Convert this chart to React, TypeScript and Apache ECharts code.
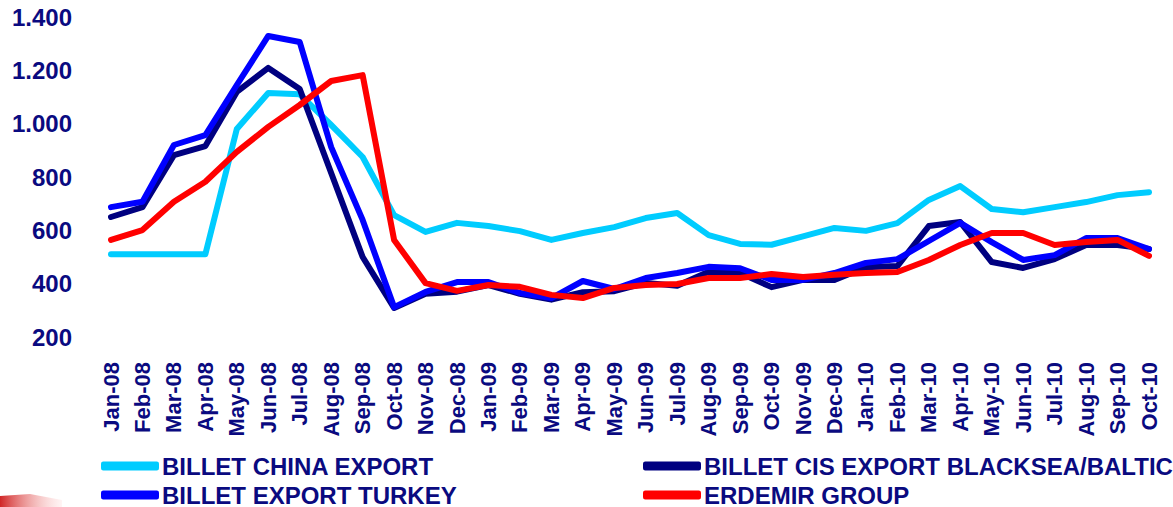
import React, { useEffect, useRef } from "react";
import * as echarts from "echarts";

const categories = [
  "Jan-08", "Feb-08", "Mar-08", "Apr-08", "May-08", "Jun-08", "Jul-08", "Aug-08", "Sep-08", "Oct-08", "Nov-08", "Dec-08",
  "Jan-09", "Feb-09", "Mar-09", "Apr-09", "May-09", "Jun-09", "Jul-09", "Aug-09", "Sep-09", "Oct-09", "Nov-09", "Dec-09",
  "Jan-10", "Feb-10", "Mar-10", "Apr-10", "May-10", "Jun-10", "Jul-10", "Aug-10", "Sep-10", "Oct-10",
];

const chinaExport = [
  510, 510, 510, 510, 980, 1115, 1110, 995, 875, 657, 594, 628,
  616, 597, 564, 590, 612, 646, 665, 582, 549, 546, 577, 609,
  598, 627, 714, 766, 680, 668, 687, 706, 732, 743,
];

const cisExport = [
  650, 687, 882, 916, 1119, 1209, 1130, 815, 500, 309, 362, 370,
  395, 362, 340, 368, 372, 403, 392, 445, 440, 387, 414, 414,
  462, 466, 616, 631, 481, 459, 492, 545, 545, 530,
];

const turkeyExport = [
  687, 707, 920, 957, 1145, 1329, 1306, 912, 639, 312, 369, 406,
  406, 365, 346, 410, 380, 421, 440, 463, 458, 414, 414, 440,
  478, 492, 560, 628, 556, 489, 507, 571, 571, 530,
];

const erdemir = [
  564, 601, 707, 782, 894, 988, 1070, 1160, 1182, 564, 402, 373,
  395, 388, 358, 346, 384, 395, 399, 421, 421, 436, 425, 433,
  440, 444, 489, 545, 590, 590, 545, 556, 564, 504,
];

const yTicks = [200, 400, 600, 800, 1000, 1200, 1400];

const seriesNames = [
  "BILLET CHINA EXPORT",
  "BILLET CIS EXPORT BLACKSEA/BALTIC",
  "BILLET EXPORT TURKEY",
  "ERDEMIR GROUP",
];
const seriesColors = ["#00CCFF", "#000080", "#0000FF", "#FF0000"];
const seriesData = [chinaExport, cisExport, turkeyExport, erdemir];

const navy = "#0A0A80";
const font = "Liberation Sans, Arial, sans-serif";

function formatTick(v: number): string {
  return String(v).replace(/\B(?=(\d{3})+(?!\d))/g, ".");
}

export default function App() {
  const ref = useRef<HTMLDivElement>(null);
  useEffect(() => {
    if (!ref.current) return;
    const chart = echarts.init(ref.current, undefined, { renderer: "svg" });
    const legendPos = [
      { left: 101, top: 454 },
      { left: 643, top: 454 },
      { left: 101, top: 483 },
      { left: 643, top: 483 },
    ];
    chart.setOption({
      animation: false,
      backgroundColor: "#ffffff",
      grid: { left: 111, right: 24, top: 17, bottom: 170, containLabel: false },
      xAxis: {
        type: "category",
        data: categories,
        boundaryGap: false,
        axisLine: { show: false },
        axisTick: { show: false },
        splitLine: { show: false },
        axisLabel: {
          rotate: 90,
          interval: 0,
          margin: 25,
          color: navy,
          fontFamily: font,
          fontWeight: "bold",
          fontSize: 22,
        },
      },
      yAxis: {
        type: "value",
        min: yTicks[0],
        max: yTicks[yTicks.length - 1],
        interval: 200,
        axisLine: { show: false },
        axisTick: { show: false },
        splitLine: { show: false },
        axisLabel: {
          margin: 39,
          color: navy,
          fontFamily: font,
          fontWeight: "bold",
          fontSize: 24,
          formatter: (v: number) => formatTick(v),
        },
      },
      legend: seriesNames.map((name, i) => ({
        data: [name],
        left: legendPos[i].left,
        top: legendPos[i].top,
        orient: "horizontal",
        icon: "roundRect",
        itemWidth: 58,
        itemHeight: 9,
        padding: 0,
        selectedMode: false,
        textStyle: {
          color: navy,
          fontFamily: font,
          fontWeight: "bold",
          fontSize: 24,
          padding: [0, 0, 0, -2],
        },
      })),
      graphic: [
        {
          type: "polygon",
          shape: {
            points: [
              [0, 496],
              [30, 494],
              [62, 500],
              [62, 507],
              [0, 507],
            ],
          },
          style: {
            fill: new echarts.graphic.LinearGradient(0, 0, 1, 0, [
              { offset: 0, color: "rgba(200,0,0,0.85)" },
              { offset: 1, color: "rgba(255,200,200,0.2)" },
            ]),
          },
        },
      ],
      series: seriesNames.map((name, i) => ({
        name,
        type: "line",
        data: seriesData[i],
        showSymbol: false,
        symbol: "none",
        color: seriesColors[i],
        lineStyle: { width: 6, color: seriesColors[i], cap: "round", join: "round" },
      })),
    });
    return () => chart.dispose();
  }, []);
  return (
    <div
      ref={ref}
      style={{ position: "fixed", left: 0, top: 0, width: 1173, height: 507 }}
    />
  );
}
